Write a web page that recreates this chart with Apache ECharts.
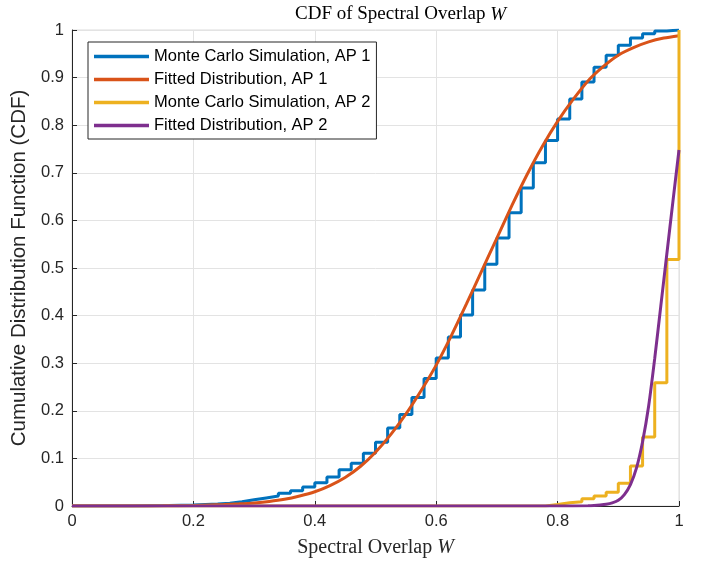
<!DOCTYPE html>
<html>
<head>
<meta charset="utf-8">
<script src="https://cdn.jsdelivr.net/npm/echarts@6/dist/echarts.min.js"></script>
<style>html,body{margin:0;padding:0;background:#fff}#c{width:709px;height:563px}</style>
</head>
<body>
<div id="c"></div>
<script>
// ---- data ----
const xTicks = [0, 0.2, 0.4, 0.6, 0.8, 1];
const yTicks = [0, 0.1, 0.2, 0.3, 0.4, 0.5, 0.6, 0.7, 0.8, 0.9, 1];

// Monte Carlo Simulation, AP 1 (empirical CDF, stair steps)
const mc1X = [0, 0.10, 0.16, 0.20, 0.22, 0.24, 0.26, 0.28, 0.30, 0.32, 0.34, 0.36, 0.38, 0.40, 0.42, 0.44, 0.46, 0.48, 0.50, 0.52, 0.54, 0.56, 0.58, 0.60, 0.62, 0.64, 0.66, 0.68, 0.70, 0.72, 0.74, 0.76, 0.78, 0.80, 0.82, 0.84, 0.86, 0.88, 0.90, 0.92, 0.94, 0.96, 0.98, 1.00];
const mc1Y = [0, 0.001, 0.002, 0.003, 0.004, 0.006, 0.009, 0.013, 0.017, 0.021, 0.027, 0.032, 0.040, 0.049, 0.061, 0.076, 0.090, 0.111, 0.134, 0.164, 0.192, 0.228, 0.268, 0.311, 0.355, 0.401, 0.454, 0.508, 0.563, 0.616, 0.668, 0.721, 0.768, 0.813, 0.855, 0.891, 0.922, 0.947, 0.968, 0.983, 0.992, 0.998, 1.0, 1.0];

// Fitted Distribution, AP 1
const fit1X = [0, 0.10, 0.15, 0.20, 0.25, 0.275, 0.30, 0.325, 0.35, 0.375, 0.40, 0.425, 0.45, 0.475, 0.50, 0.525, 0.55, 0.575, 0.60, 0.625, 0.65, 0.675, 0.70, 0.725, 0.75, 0.775, 0.80, 0.825, 0.85, 0.875, 0.90, 0.925, 0.95, 0.975, 1.00];
const fit1Y = [0, 0.0001, 0.0004, 0.0012, 0.003, 0.0045, 0.0065, 0.0095, 0.014, 0.021, 0.030, 0.043, 0.060, 0.083, 0.113, 0.150, 0.193, 0.242, 0.296, 0.358, 0.425, 0.494, 0.563, 0.632, 0.697, 0.756, 0.808, 0.853, 0.893, 0.923, 0.947, 0.963, 0.975, 0.983, 0.988];

// Monte Carlo Simulation, AP 2
const mc2X = [0, 0.78, 0.80, 0.82, 0.84, 0.86, 0.88, 0.90, 0.92, 0.94, 0.96, 0.98, 1.00];
const mc2Y = [0, 0.003, 0.007, 0.009, 0.015, 0.021, 0.029, 0.048, 0.084, 0.145, 0.259, 0.518, 1.0];

// Fitted Distribution, AP 2
const fit2X = [0, 0.80, 0.85, 0.86, 0.87, 0.88, 0.89, 0.90, 0.91, 0.92, 0.93, 0.94, 0.95, 0.96, 0.97, 0.98, 0.99, 1.00];
const fit2Y = [0, 0, 0.0005, 0.001, 0.002, 0.0035, 0.0065, 0.012, 0.024, 0.045, 0.08, 0.135, 0.21, 0.31, 0.42, 0.53, 0.64, 0.748];

const seriesNames = ['Monte Carlo Simulation, AP 1', 'Fitted Distribution, AP 1', 'Monte Carlo Simulation, AP 2', 'Fitted Distribution, AP 2'];
const seriesColors = ['#0072BD', '#D95319', '#EDB120', '#7E2F8E'];

const zip = (xs, ys) => xs.map((x, i) => [x, ys[i]]);

const SANS = 'Liberation Sans, Arial, Helvetica, sans-serif';
const SERIF = 'Liberation Serif, Times New Roman, serif';
const txt = '#262626';

const chart = echarts.init(document.getElementById('c'), null, {renderer: 'canvas'});
chart.setOption({
  animation: false,
  backgroundColor: '#fff',
  title: {
    text: '{a|CDF of Spectral Overlap }{b|W}',
    left: 290, top: 0,
    textStyle: {
      fontWeight: 'normal',
      rich: {
        a: {fontFamily: SERIF, fontSize: 19, fontWeight: 'normal', color: '#000'},
        b: {fontFamily: SERIF, fontSize: 19, fontWeight: 'normal', fontStyle: 'italic', color: '#000'}
      }
    }
  },
  legend: {
    left: 88, top: 42, orient: 'vertical',
    backgroundColor: '#fff', borderColor: '#262626', borderWidth: 1,
    padding: [6, 6, 5, 6],
    itemWidth: 55, itemHeight: 3.5, itemGap: 6,
    icon: 'rect',
    textStyle: {fontFamily: SANS, fontSize: 16.5, color: '#000', lineHeight: 17},
    data: seriesNames
  },
  grid: {left: 72, right: 30, top: 30, bottom: 57, show: true, borderColor: '#dcdcdc', borderWidth: 1},
  xAxis: {
    type: 'value', min: 0, max: 1, interval: 0.2,
    name: '{a|Spectral Overlap }{b|W}', nameLocation: 'middle', nameGap: 32,
    nameTextStyle: {rich: {
      a: {fontFamily: SERIF, fontSize: 20, color: txt},
      b: {fontFamily: SERIF, fontSize: 20, fontStyle: 'italic', color: txt}
    }},
    axisLine: {show: true, lineStyle: {color: txt, width: 1}},
    axisTick: {show: true, inside: true, length: 5, lineStyle: {color: txt}},
    axisLabel: {fontFamily: SANS, fontSize: 16.5, color: txt, margin: 7,
      formatter: v => xTicks.includes(+v.toFixed(1)) ? String(+v.toFixed(1)) : ''},
    splitLine: {show: true, lineStyle: {color: '#e3e3e3', width: 1}}
  },
  yAxis: {
    type: 'value', min: 0, max: 1, interval: 0.1,
    name: 'Cumulative Distribution Function (CDF)', nameLocation: 'middle', nameGap: 41,
    nameTextStyle: {fontFamily: SANS, fontSize: 20.5, color: txt},
    axisLine: {show: true, lineStyle: {color: txt, width: 1}},
    axisTick: {show: true, inside: true, length: 5, lineStyle: {color: txt}},
    axisLabel: {fontFamily: SANS, fontSize: 16.5, color: txt, margin: 8,
      formatter: v => yTicks.includes(+v.toFixed(1)) ? String(+v.toFixed(1)) : ''},
    splitLine: {show: true, lineStyle: {color: '#e3e3e3', width: 1}}
  },
  series: [
    {name: seriesNames[0], type: 'line', step: 'end', showSymbol: false, data: zip(mc1X, mc1Y),
     lineStyle: {color: seriesColors[0], width: 3}, itemStyle: {color: seriesColors[0]}},
    {name: seriesNames[1], type: 'line', smooth: 0.25, showSymbol: false, data: zip(fit1X, fit1Y),
     lineStyle: {color: seriesColors[1], width: 3}, itemStyle: {color: seriesColors[1]}},
    {name: seriesNames[2], type: 'line', step: 'end', showSymbol: false, data: zip(mc2X, mc2Y),
     lineStyle: {color: seriesColors[2], width: 3}, itemStyle: {color: seriesColors[2]}},
    {name: seriesNames[3], type: 'line', smooth: 0.25, showSymbol: false, data: zip(fit2X, fit2Y),
     lineStyle: {color: seriesColors[3], width: 3}, itemStyle: {color: seriesColors[3]}}
  ]
});
</script>
</body>
</html>
